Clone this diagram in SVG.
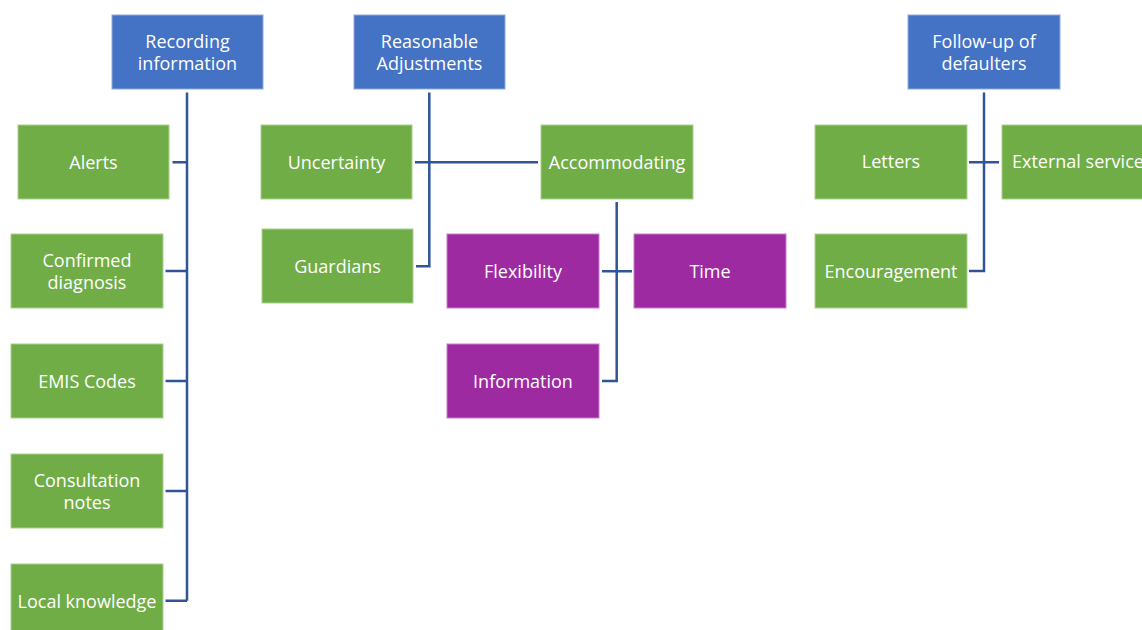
<svg xmlns="http://www.w3.org/2000/svg" width="1142" height="630" viewBox="0 0 1142 630">
<style>
.b{fill:#4472C4;stroke:#8FAADC;stroke-width:1}
.g{fill:#70AD47;stroke:#A9D18E;stroke-width:1}
.p{fill:#9E2AA2;stroke:#C77DCA;stroke-width:1}
text{font-family:"Open Sans","Liberation Sans",sans-serif;font-size:18px;fill:#fff;text-anchor:middle}
.c{fill:none;stroke:#2F5597;stroke-width:2.5}
</style>
<rect width="1142" height="630" fill="#fff"/>
<g id="connectors">
<path class="c" d="M187,92.5V600.7 M172.5,162.3H187 M165.5,271H187 M165.5,381H187 M165.5,491H187 M165.5,600.7H187"/>
<path class="c" d="M429.3,92.5V266.3H416 M415,162.3H538"/>
<path class="c" d="M616.7,202V381H602 M602,271.3H632"/>
<path class="c" d="M984,92.5V271H969 M969,162.3H999"/>
</g>
<g id="recording"><rect class="b" x="112" y="15" width="151" height="74"/><text x="187.5" y="48">Recording<tspan x="187.5" dy="22">information</tspan></text></g>
<g id="alerts"><rect class="g" x="18" y="125" width="151" height="74"/><text x="93.5" y="168.5">Alerts</text></g>
<g id="confirmed"><rect class="g" x="11" y="234" width="152" height="74"/><text x="87" y="266.5">Confirmed<tspan x="87" dy="22">diagnosis</tspan></text></g>
<g id="emis"><rect class="g" x="11" y="344" width="152" height="74"/><text x="87" y="387.5">EMIS Codes</text></g>
<g id="consultation"><rect class="g" x="11" y="454" width="152" height="74"/><text x="87" y="486.5">Consultation<tspan x="87" dy="22">notes</tspan></text></g>
<g id="local"><rect class="g" x="11" y="564" width="152" height="74"/><text x="87" y="607.5">Local knowledge</text></g>
<g id="reasonable"><rect class="b" x="354" y="15" width="151" height="74"/><text x="429.5" y="48">Reasonable<tspan x="429.5" dy="22">Adjustments</tspan></text></g>
<g id="uncertainty"><rect class="g" x="261" y="125" width="151" height="74"/><text x="336.5" y="168.5">Uncertainty</text></g>
<g id="guardians"><rect class="g" x="262" y="229" width="151" height="74"/><text x="337.5" y="272.5">Guardians</text></g>
<g id="accommodating"><rect class="g" x="541" y="125" width="152" height="74"/><text x="617" y="168.5">Accommodating</text></g>
<g id="flexibility"><rect class="p" x="447" y="234" width="152" height="74"/><text x="523" y="277.5">Flexibility</text></g>
<g id="time"><rect class="p" x="634" y="234" width="152" height="74"/><text x="710" y="277.5">Time</text></g>
<g id="information"><rect class="p" x="447" y="344" width="152" height="74"/><text x="523" y="387.5">Information</text></g>
<g id="followup"><rect class="b" x="908" y="15" width="152" height="74"/><text x="984" y="47.5">Follow-up of<tspan x="984" dy="22">defaulters</tspan></text></g>
<g id="letters"><rect class="g" x="815" y="125" width="152" height="74"/><text x="891" y="168">Letters</text></g>
<g id="external"><rect class="g" x="1002" y="125" width="152" height="74"/><text x="1012" y="168" style="text-anchor:start">External service</text></g>
<g id="encouragement"><rect class="g" x="815" y="234" width="152" height="74"/><text x="891" y="277.5">Encouragement</text></g>
</svg>
